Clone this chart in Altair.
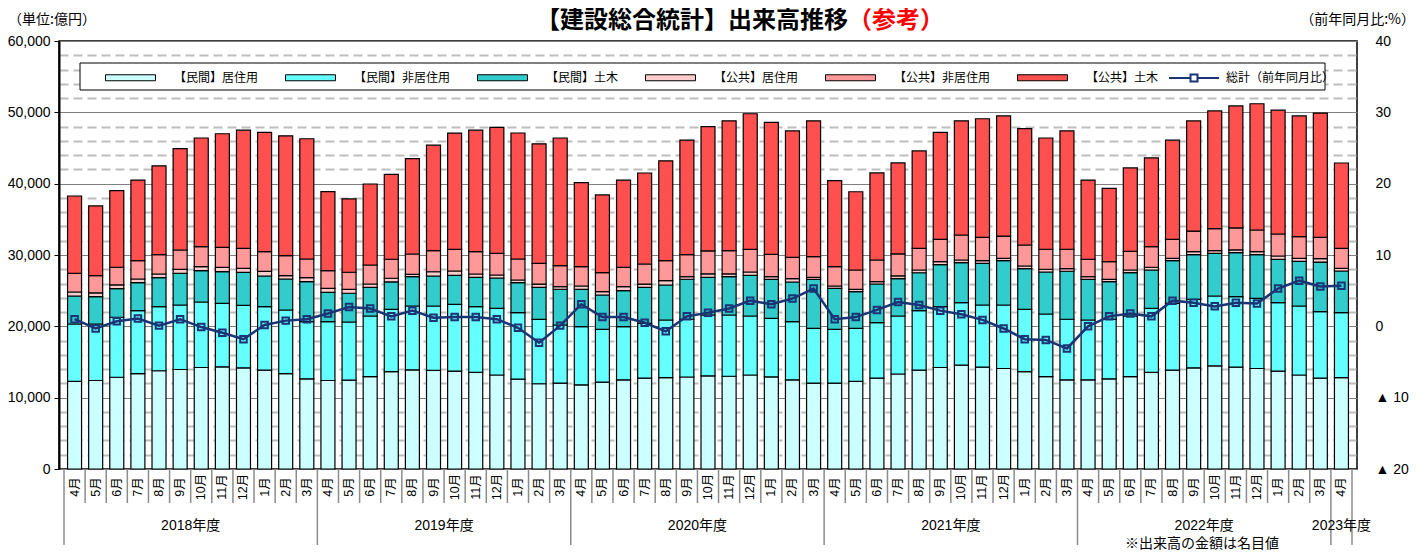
import altair as alt
import pandas as pd

NUM_FONT = "Liberation Sans, Arial, Noto Sans CJK JP, sans-serif"
JP_FONT = "Noto Sans CJK JP, sans-serif"

# ---------------- data ----------------
fiscal_years = ["2018年度", "2019年度", "2020年度", "2021年度", "2022年度", "2023年度"]
month_numbers = [4, 5, 6, 7, 8, 9, 10, 11, 12, 1, 2, 3] * 5 + [4]

series_names = ["【民間】居住用", "【民間】非居住用", "【民間】土木",
                "【公共】居住用", "【公共】非居住用", "【公共】土木"]
series_colors = ["#CCFFFF", "#66FFFF", "#33CCCC", "#FFCCCC", "#FF9999", "#FF5050"]
line_name = "総計（前年同月比）"
line_color = "#1A3476"

private_residential = [
    12270, 12410, 12860, 13360, 13770, 13950, 14230, 14320, 14180, 13860, 13360, 12640,
    12410, 12450, 12950, 13640, 13910, 13820, 13730, 13550, 13180, 12590, 11950, 12050,
    11800, 12180, 12500, 12730, 12820, 12900, 13050, 13000, 13180, 12910, 12500, 12050,
    12050, 12270, 12730, 13320, 13860, 14230, 14550, 14270, 14090, 13640, 12950, 12500,
    12500, 12640, 12950, 13550, 13860, 14180, 14450, 14270, 14090, 13730, 13180, 12730,
    12820]
private_nonresidential = [
    8060, 7920, 8410, 8830, 8980, 9040, 9180, 8910, 8770, 8890, 8930, 8010,
    8240, 8160, 8500, 8750, 8940, 9030, 9360, 9200, 9350, 9320, 9035, 8140,
    8150, 7405, 7450, 7695, 8070, 8090, 8540, 8590, 8270, 8215, 8150, 7675,
    7535, 7455, 7780, 8130, 8330, 8520, 8760, 8720, 8900, 8750, 8780, 8490,
    8390, 8350, 8500, 8980, 9370, 9610, 9800, 9885, 9840, 9585, 9670, 9320,
    9090]
private_civil = [
    3925, 3830, 4010, 3925, 4065, 4445, 4390, 4430, 4625, 4305, 4345, 5610,
    4120, 4025, 4025, 3830, 4105, 4205, 4065, 4120, 4245, 4205, 4485, 5005,
    5245, 4810, 5045, 5045, 4905, 5610, 5285, 5370, 5705, 5465, 5565, 6870,
    5750, 5130, 5425, 5230, 5325, 5890, 5610, 5845, 6210, 5690, 5890, 6730,
    5705, 5270, 6070, 5370, 5970, 6250, 5985, 6170, 6115, 6085, 6265, 6965,
    5845]
public_residential = [
    560, 520, 520, 520, 520, 560, 560, 615, 560, 660, 460, 560,
    560, 560, 460, 520, 340, 600, 600, 465, 420, 380, 460, 365,
    460, 465, 560, 460, 600, 365, 465, 380, 460, 365, 460, 280,
    320, 335, 325, 380, 380, 420, 380, 365, 335, 380, 380, 365,
    365, 335, 380, 380, 335, 420, 365, 380, 420, 460, 420, 465,
    380]
public_nonresidential = [
    2620, 2425, 2480, 2565, 2705, 2705, 2805, 2805, 2805, 2750, 2805, 2620,
    2470, 2385, 2665, 2665, 2845, 2945, 3040, 3125, 3040, 2945, 2900, 2945,
    2705, 2665, 2720, 2805, 2805, 3085, 3225, 3265, 3185, 3140, 3000, 2890,
    2705, 2705, 3040, 3085, 3040, 3140, 3505, 3280, 3125, 2945, 2805, 2720,
    2440, 2465, 2620, 2890, 2665, 2900, 3085, 3085, 3040, 3085, 3030, 3000,
    2805]
public_civil = [
    10835, 9770, 10745, 11300, 12455, 14200, 15235, 15920, 16560, 16735, 16800, 16860,
    11080, 10275, 11350, 11900, 13360, 14795, 16300, 17035, 17660, 17660, 16760, 17900,
    11780, 10890, 12235, 12760, 14000, 16060, 17440, 18200, 19000, 18500, 17720, 19040,
    12060, 10970, 12200, 12760, 13660, 15000, 16000, 16620, 16840, 16300, 15600, 16600,
    11110, 10290, 11680, 12440, 13900, 15435, 16510, 17115, 17695, 17355, 16935, 17420,
    11960]
yoy_pct = [
    1.0, -0.3, 0.7, 1.1, 0.1, 1.0, -0.1, -0.9, -1.8, 0.2, 0.8, 1.0,
    1.8, 2.7, 2.5, 1.4, 2.2, 1.2, 1.3, 1.3, 1.0, -0.2, -2.3, 0.1,
    3.1, 1.3, 1.3, 0.5, -0.7, 1.4, 1.9, 2.5, 3.6, 3.1, 3.9, 5.3,
    1.0, 1.3, 2.3, 3.4, 3.0, 2.2, 1.7, 0.9, -0.3, -1.8, -1.9, -3.1,
    0.0, 1.4, 1.8, 1.4, 3.6, 3.3, 2.8, 3.3, 3.2, 5.3, 6.4, 5.6,
    5.7]

title_main = "【建設総合統計】出来高推移"
title_note = "（参考）"
unit_left = "（単位:億円）"
unit_right = "（前年同月比:%）"
footnote = "※出来高の金額は名目値"

# ---------------- tables ----------------
n = len(month_numbers)
series_values = [private_residential, private_nonresidential, private_civil,
                 public_residential, public_nonresidential, public_civil]
bars_df = pd.DataFrame([
    {"i": k, "cat": name, "ord": s, "v": vals[k]}
    for s, (name, vals) in enumerate(zip(series_names, series_values))
    for k in range(n)
])
months_df = pd.DataFrame({
    "i": list(range(n)),
    "m": [f"{m}月" for m in month_numbers],
    "fy": [fiscal_years[k // 12] for k in range(n)],
    "yoy": yoy_pct,
    "s": [line_name] * n,
})
bounds_df = pd.DataFrame({
    "b": [k - 0.5 for k in range(n)] + [n - 0.5],
    "long": [month_numbers[k] == 4 for k in range(n)] + [True],
})

W, H = 1298, 428
XS = alt.Scale(domain=[-0.5, n - 0.5], nice=False, zero=False)


def xq(field):
    return alt.X(field, scale=XS, axis=None)


major = "datum.value % 10000 === 0"
left_axis = alt.Axis(
    values=list(range(0, 60001, 2000)),
    labelExpr=f"{major} ? format(datum.value, ',') : ''",
    labelFont=NUM_FONT, labelFontSize=14, labelColor="black", labelPadding=4,
    labelOverlap=False, labelFlush=False,
    tickSize=5, tickColor="black", tickWidth=1,
    tickOpacity={"condition": {"test": major, "value": 1}, "value": 0},
    domainColor="black", domainWidth=2,
    grid=True,
    gridColor={"condition": {"test": major, "value": "#7F7F7F"}, "value": "#BDBDBD"},
    gridDash={"condition": {"test": major, "value": []}, "value": [9, 5]},
    gridWidth={"condition": {"test": major, "value": 1}, "value": 1.8},
    title=None,
)
right_axis = alt.Axis(
    orient="right", values=[-20, -10, 0, 10, 20, 30, 40],
    labelExpr="datum.value < 0 ? '▲ ' + abs(datum.value) : '' + datum.value",
    labelFont=NUM_FONT, labelFontSize=14, labelColor="black", labelPadding=18,
    labelFlush=False, labelOverlap=False, ticks=False, domain=False, grid=False, title=None,
)

YL = alt.Scale(domain=[0, 60000], nice=False, zero=True)
YR = alt.Scale(domain=[-20, 40], nice=False, zero=False)

bars = alt.Chart(bars_df).mark_bar(width=14, stroke="black", strokeWidth=1.2).encode(
    x=xq("i:Q"),
    y=alt.Y("v:Q", stack="zero", scale=YL, axis=left_axis),
    color=alt.Color(
        "cat:N",
        scale=alt.Scale(domain=series_names, range=series_colors),
        legend=alt.Legend(
            title=None, orient="none", legendX=46, legendY=11, direction="horizontal",
            symbolType="M-1,-0.12L1,-0.12L1,0.12L-1,0.12Z", symbolSize=2500,
            symbolStrokeColor="black", symbolStrokeWidth=1, symbolOpacity=1,
            labelFont=JP_FONT, labelFontSize=12, labelColor="black",
            labelOffset=18, columnPadding=24, padding=0,
        ),
    ),
    order=alt.Order("ord:Q", sort="ascending"),
)

one = pd.DataFrame({"t": [""]})
frame = alt.Chart(one).mark_rect(fill="white", stroke="black", strokeWidth=1).encode(
    x=alt.value(21), x2=alt.value(1266), y=alt.value(22), y2=alt.value(49)
)

short_rules = alt.Chart(bounds_df).transform_filter("!datum.long").mark_rule(
    color="#8C8C8C", strokeWidth=1.5).encode(x=xq("b:Q"), y=alt.value(H), y2=alt.value(H + 34))
long_rules = alt.Chart(bounds_df).transform_filter("datum.long").mark_rule(
    color="#8C8C8C", strokeWidth=1.5).encode(x=xq("b:Q"), y=alt.value(H), y2=alt.value(H + 76))

month_text = alt.Chart(months_df).mark_text(
    angle=270, font=NUM_FONT, fontSize=12.5, color="black", align="center", baseline="middle"
).encode(x=xq("i:Q"), y=alt.value(H + 18), text="m:N")

year_text = alt.Chart(months_df).transform_aggregate(
    xc="mean(i)", groupby=["fy"]
).mark_text(font=NUM_FONT, fontSize=14, color="black", align="center", baseline="middle").encode(
    x=xq("xc:Q"), y=alt.value(H + 57), text="fy:N")


def label(txt, x, y, size, align, color="black", weight="normal"):
    return alt.Chart(pd.DataFrame({"t": [txt]})).mark_text(
        font=JP_FONT, fontSize=size, color=color, align=align, baseline="middle", fontWeight=weight
    ).encode(x=alt.value(x), y=alt.value(y), text="t:N")


t_main = label(title_main, 789, -20, 24, "right", weight="bold")
t_note = label(title_note, 789, -20, 24, "left", color="#FF0000", weight="bold")
t_unit_l = label(unit_left, -51, -21, 14, "left")
t_unit_r = label(unit_right, 1356, -21, 14, "right")
t_foot = label(footnote, 1143, 503, 14, "center")

line = alt.Chart(months_df).mark_line(strokeWidth=2.5).encode(
    x=xq("i:Q"),
    y=alt.Y("yoy:Q", scale=YR, axis=right_axis),
    stroke=alt.Stroke(
        "s:N",
        scale=alt.Scale(domain=[line_name], range=[line_color]),
        legend=alt.Legend(
            title=None, orient="none", legendX=1109, legendY=11,
            symbolType="M-1,0L-0.14,0M0.14,0L1,0M-0.14,-0.14L0.14,-0.14L0.14,0.14L-0.14,0.14Z",
            symbolSize=2500, symbolStrokeWidth=2, symbolFillColor="transparent",
            labelFont=JP_FONT, labelFontSize=12, labelColor="black",
            labelOffset=6, padding=0,
        ),
    ),
)
points = alt.Chart(months_df).mark_point(
    shape="square", size=42, filled=False, strokeWidth=2, color=line_color, opacity=1
).encode(x=xq("i:Q"), y=alt.Y("yoy:Q", scale=YR, axis=right_axis))

left_group = alt.layer(bars, frame, short_rules, long_rules, month_text, year_text,
                       t_main, t_note, t_unit_l, t_unit_r, t_foot)
right_group = alt.layer(line, points)

chart = alt.layer(left_group, right_group).resolve_scale(y="independent").properties(
    width=W, height=H,
    autosize=alt.AutoSizeParams(type="none"),
    padding={"left": 51, "top": 33, "right": 58, "bottom": 83},
    background="white",
).configure_view(stroke="black", strokeWidth=1.5)

chart.save("out.html", embed_options={"renderer": "svg", "actions": False})
